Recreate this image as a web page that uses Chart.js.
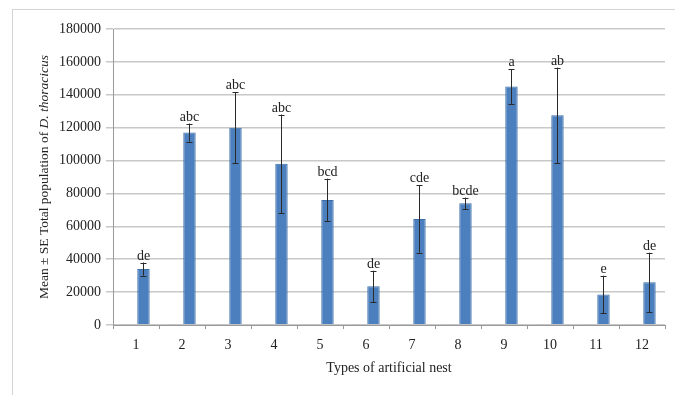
<!DOCTYPE html>
<html>
<head>
<meta charset="utf-8">
<script src="https://cdn.jsdelivr.net/npm/chart.js@4.4.0/dist/chart.umd.min.js"></script>
<style>
  body { margin: 0; background: #fff; }
  #wrap { position: relative; width: 675px; height: 395px; }
  #frame { position: absolute; left: 12px; top: 9px; right: 0; bottom: 0;
           border-top: 1px solid #d4d4d4; border-left: 1px solid #d4d4d4; }
  canvas { position: absolute; left: 0; top: 0; }
</style>
</head>
<body>
<div id="wrap">
  <div id="frame"></div>
  <canvas id="chart" width="675" height="395"></canvas>
</div>
<script>
const nestTypes = ["1", "2", "3", "4", "5", "6", "7", "8", "9", "10", "11", "12"];
const meanPopulation = [34000, 117000, 120000, 98000, 76000, 23500, 64500, 74000, 145000, 127500, 18500, 26000];
const standardError = [4000, 5500, 21500, 30000, 13000, 9500, 20500, 3500, 10500, 29000, 11500, 18000];
const groupLetters = ["de", "abc", "abc", "abc", "bcd", "de", "cde", "bcde", "a", "ab", "e", "de"];
const emptySeries = [0, 0, 0, 0, 0, 0, 0, 0, 0, 0, 0, 0];
const yTicks = [0, 20000, 40000, 60000, 80000, 100000, 120000, 140000, 160000, 180000];

const serif = "'Liberation Serif', 'Times New Roman', serif";

// error bars + letters drawn from the bar elements and the y scale
const errorBars = {
  id: "errorBars",
  afterDatasetsDraw(chart) {
    const ctx = chart.ctx;
    const y = chart.scales.y;
    const bars = chart.getDatasetMeta(1).data;
    ctx.save();
    bars.forEach((bar, i) => {
      const top = y.getPixelForValue(meanPopulation[i] + standardError[i]);
      const bottom = y.getPixelForValue(meanPopulation[i] - standardError[i]);
      const x = Math.round(bar.x) + 0.5;
      ctx.strokeStyle = "#2a2a2a";
      ctx.lineWidth = 1;
      ctx.beginPath();
      ctx.moveTo(x, top);
      ctx.lineTo(x, bottom);
      ctx.moveTo(x - 3, Math.round(top) + 0.5);
      ctx.lineTo(x + 3, Math.round(top) + 0.5);
      ctx.moveTo(x - 3, Math.round(bottom) + 0.5);
      ctx.lineTo(x + 3, Math.round(bottom) + 0.5);
      ctx.stroke();
      ctx.fillStyle = "#222";
      ctx.font = "14px " + serif;
      ctx.textAlign = "center";
      ctx.textBaseline = "alphabetic";
      ctx.fillText(groupLetters[i], x, top - 3);
    });
    ctx.restore();
  }
};

// y title with italic species name
const yTitle = {
  id: "yTitle",
  afterDraw(chart) {
    const ctx = chart.ctx;
    const parts = [
      ["Mean ± SE Total population of ", "normal"],
      ["D. thoracicus", "italic"]
    ];
    ctx.save();
    let total = 0;
    parts.forEach(p => {
      ctx.font = p[1] + " 13.5px " + serif;
      total += ctx.measureText(p[0]).width;
    });
    ctx.translate(44, 177);
    ctx.rotate(-Math.PI / 2);
    ctx.fillStyle = "#222";
    ctx.textBaseline = "middle";
    ctx.textAlign = "left";
    let x = -total / 2;
    parts.forEach(p => {
      ctx.font = p[1] + " 13.5px " + serif;
      ctx.fillText(p[0], x, 0);
      x += ctx.measureText(p[0]).width;
    });
    ctx.restore();
  }
};

new Chart(document.getElementById("chart"), {
  type: "bar",
  data: {
    labels: nestTypes,
    datasets: [
      {
        data: emptySeries,
        backgroundColor: "#b8b8b8",
        minBarLength: 1,
        categoryPercentage: 0.65,
        barPercentage: 0.83
      },
      {
        data: meanPopulation,
        backgroundColor: "#4b7fbd",
        borderColor: "#3d6ea8",
        borderWidth: 1,
        categoryPercentage: 0.65,
        barPercentage: 0.83
      }
    ]
  },
  options: {
    responsive: false,
    animation: false,
    devicePixelRatio: 1,
    layout: { padding: { left: 0, right: 10, top: 29, bottom: 0 } },
    plugins: {
      legend: { display: false },
      tooltip: { enabled: false }
    },
    scales: {
      x: {
        grid: { display: true, drawOnChartArea: false, offset: true, color: "#999", tickLength: 4 },
        border: { color: "#999" },
        ticks: { color: "#222", font: { family: serif, size: 14 }, padding: 8 },
        title: {
          display: true,
          text: "Types of artificial nest",
          color: "#222",
          font: { family: serif, size: 14 },
          padding: { top: 4, bottom: 18 }
        },
        afterFit: (s) => { s.height = 70; }
      },
      y: {
        min: 0,
        max: 180000,
        afterBuildTicks: (s) => { s.ticks = yTicks.map(v => ({ value: v })); },
        grid: { color: "#c8c8c8", lineWidth: 1.5, tickLength: 7 },
        border: { color: "#999" },
        ticks: {
          color: "#222",
          font: { family: serif, size: 14 },
          padding: 5,
          callback: (v) => String(v)
        },
        afterFit: (s) => { s.width = 113; }
      }
    }
  },
  plugins: [errorBars, yTitle]
});
</script>
</body>
</html>
